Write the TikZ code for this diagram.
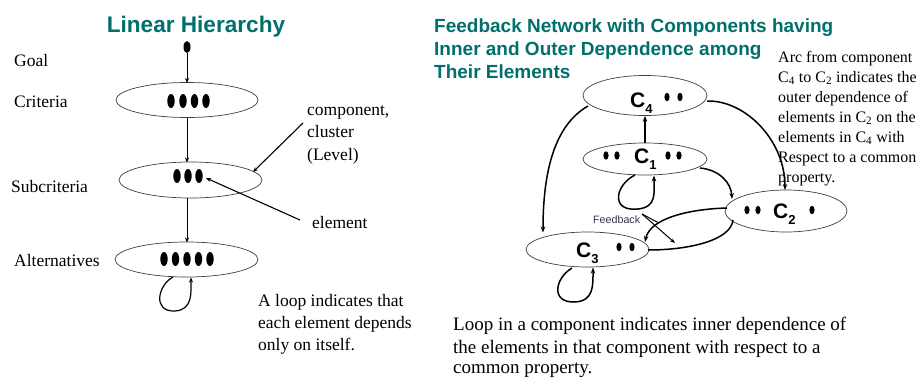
\documentclass[tikz,border=0pt]{standalone}
\usepackage{fontspec}
\setmainfont{Liberation Serif}
\setsansfont{Liberation Sans}
\usetikzlibrary{shapes.geometric,arrows.meta}
\definecolor{titleteal}{RGB}{0,112,108}
\definecolor{fbgray}{RGB}{50,55,75}
\newcommand{\csub}[2]{#1\raisebox{-6pt}{\fontsize{13}{13}\selectfont #2}}

\tikzset{
  cluster/.style={draw=black!75, line width=0.7pt, ellipse, inner sep=0pt},
  thinarrow/.style={line width=0.9pt, -{Stealth[length=5pt,width=4pt]}},
  arc/.style={line width=1.5pt, -{Stealth[length=6pt,width=4.5pt]}},
  plainarc/.style={line width=1.5pt},
  elem/.style={fill=black},
  lbl/.style={font=\fontsize{17.5}{21}\selectfont, anchor=base west, inner sep=0pt},
  note/.style={font=\fontsize{16}{20}\selectfont, anchor=base west, inner sep=0pt},
  bignote/.style={font=\fontsize{19}{23}\selectfont, anchor=base west, inner sep=0pt},
  ttl/.style={font=\sffamily\bfseries\fontsize{19}{23}\selectfont, text=titleteal, anchor=base west, inner sep=0pt},
  cname/.style={font=\sffamily\bfseries\fontsize{21}{21}\selectfont, anchor=base west, inner sep=0pt},
}

\begin{document}
\begin{tikzpicture}[x=1pt,y=-1pt]
\useasboundingbox (0,0) rectangle (916,378);
\clip (0,0) rectangle (916,378);
\fill[white] (0,0) rectangle (916,378);

% ---------- linear hierarchy ----------
\node[font=\sffamily\bfseries\fontsize{22.6}{26}\selectfont, text=titleteal, anchor=base, inner sep=0pt] (lhtitle) at (196,32) {Linear Hierarchy};

\node[lbl] (goal) at (14,66) {Goal};
\node[lbl] (critlbl) at (14,107) {Criteria};
\node[lbl] (sublbl) at (11,192) {Subcriteria};
\node[lbl] (altlbl) at (14,266) {Alternatives};

\node[ellipse, fill=black, minimum width=7pt, minimum height=12pt, inner sep=0pt] (gdot) at (187,47) {};
\node[cluster, minimum width=142pt, minimum height=35pt] (crit) at (187,100) {};
\node[cluster, minimum width=143pt, minimum height=36pt] (sub) at (190.5,180) {};
\node[cluster, minimum width=143pt, minimum height=35pt] (alt) at (186.5,259.5) {};

\foreach \x in {171,183,194.5,206} \fill[elem] (\x,101) ellipse (3.7pt and 7pt);
\foreach \x in {177,188,199} \fill[elem] (\x,176) ellipse (3.7pt and 7pt);
\foreach \x in {164,175.5,187,198.5,210} \fill[elem] (\x,259) ellipse (3.7pt and 7pt);

\draw[thinarrow] (gdot.south) -- (187,83);
\draw[thinarrow] (187,118) -- (187,162.5);
\draw[thinarrow] (187,198) -- (187,242.5);

% loop on the alternatives
\coordinate (altloop) at (173,277);
\draw[thinarrow, line width=1.2pt] (altloop) .. controls (158,285) and (152,312) .. (175,311) .. controls (193,310) and (191,292) .. (191,277.5);

% annotations
\node[lbl] (comp1) at (307,115) {component,};
\node[lbl] (comp2) at (307,137) {cluster};
\node[lbl] (comp3) at (307,160) {(Level)};
\coordinate (comptail) at (303,123);
\draw[thinarrow, line width=1.1pt] (comptail) -- (253,172);

\node[lbl] (elemlbl) at (312,228) {element};
\coordinate (elemtail) at (300,220);
\draw[thinarrow, line width=1.1pt] (elemtail) -- (206,178);

\node[lbl] (loop1) at (258,306) {A loop indicates that};
\node[lbl] (loop2) at (258,328) {each element depends};
\node[lbl] (loop3) at (258,350) {only on itself.};

% ---------- feedback network ----------
\node[ttl] (ft1) at (434,32) {Feedback Network with Components having};
\node[ttl] (ft2) at (434,55) {Inner and Outer Dependence among};
\node[ttl] (ft3) at (434,78) {Their Elements};

\node[cluster, minimum width=124pt, minimum height=40pt] (c4) at (645,95.5) {};
\node[cluster, minimum width=124pt, minimum height=32pt] (c1) at (645,159) {};
\node[cluster, minimum width=122pt, minimum height=42pt] (c2) at (786,211) {};
\node[cluster, minimum width=123pt, minimum height=35pt] (c3) at (587.5,249.5) {};

\node[cname] (c4name) at (630,107) {\csub{C}{4}};
\node[cname] (c1name) at (634,163) {\csub{C}{1}};
\node[cname] (c2name) at (773,218) {\csub{C}{2}};
\node[cname] (c3name) at (576,257) {\csub{C}{3}};

\foreach \x in {667,680} \fill[elem] (\x,97) ellipse (2.6pt and 4.2pt);
\foreach \x in {606,617,668,679} \fill[elem] (\x,155.5) ellipse (2.6pt and 4.2pt);
\foreach \x in {747,758,812} \fill[elem] (\x,210) ellipse (2.6pt and 4.2pt);
\foreach \x in {619,632} \fill[elem] (\x,247) ellipse (2.6pt and 4.2pt);

% outer dependence arcs
\draw[arc] (c1.north) -- (c4.south);
\draw[arc] (588,106) .. controls (555,125) and (543,170) .. (543,232.5);
\draw[arc] (707,101) .. controls (745,100) and (785,140) .. (785,190);
\draw[arc] (700,168) .. controls (720,170) and (731,183) .. (732,199);
\draw[arc] (727,208) .. controls (690,209) and (650,218) .. (645,242);
\draw[plainarc] (648,250) .. controls (690,250) and (731,240) .. (733,220);

% inner dependence loops
\draw[arc] (635,175) .. controls (615,185) and (610,212) .. (638,209) .. controls (657,207) and (654,193) .. (654,175.5);
\draw[arc] (572,268) .. controls (555,278) and (550,303) .. (575,302) .. controls (594,301) and (593,285) .. (593,267.5);

% feedback marker
\node[font=\sffamily\fontsize{10.7}{12}\selectfont, text=fbgray, anchor=base west, inner sep=0pt] (fb) at (593,223) {Feedback};
\coordinate (fbtail) at (642,214);
\draw[line width=1pt, -{Stealth[length=5pt,width=4pt]}] (fbtail) -- (675,243);
\draw[line width=1pt] (fbtail) -- (659,223);

% explanatory notes
\node[note] (a1) at (778,62) {Arc from component};
\node[note] (a2) at (778,82) {C\textsubscript{4} to C\textsubscript{2} indicates the};
\node[note] (a3) at (778,102) {outer dependence of};
\node[note] (a4) at (778,122) {elements in C\textsubscript{2} on the};
\node[note] (a5) at (778,142) {elements in C\textsubscript{4} with};
\node[note] (a6) at (778,162) {Respect to a common};
\node[note] (a7) at (778,182) {property.};

\node[bignote] (b1) at (453,330) {Loop in a component indicates inner dependence of};
\node[bignote] (b2) at (453,353) {the elements in that component with respect to a};
\node[bignote] (b3) at (453,373) {common property.};
\end{tikzpicture}
\end{document}
